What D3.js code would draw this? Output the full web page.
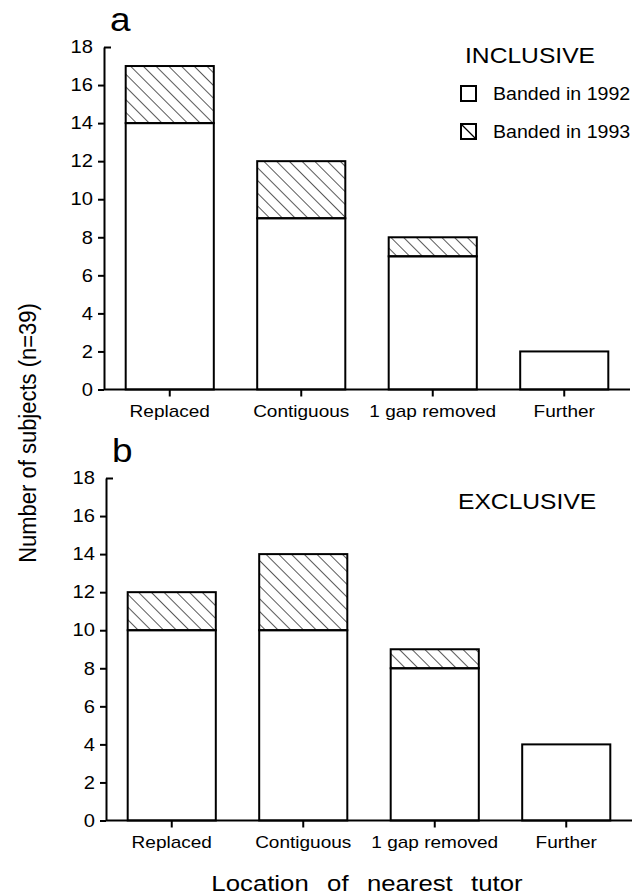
<!DOCTYPE html>
<meta charset="utf-8">
<style>
body { margin: 0; background: #fff; }
svg text { font-family: "Liberation Sans", Arial, Helvetica, sans-serif; fill: #000; }
.axis path, .axis line { stroke: #000; stroke-width: 2px; }
.bar { stroke: #000; stroke-width: 2px; }
</style>
<body>
<script src="https://d3js.org/d3.v7.min.js"></script>
<script>

var width = 638,
    height = 895;

// the scanned figure is a little wider than tall, so text is stretched
var kx = 1.12;

var categories = ["Replaced", "Contiguous", "1 gap removed", "Further"];
var inclusive1992 = [14, 9, 7, 2];
var inclusive1993 = [3, 3, 1, 0];
var exclusive1992 = [10, 10, 8, 4];
var exclusive1993 = [2, 4, 1, 0];
var yTicks = [0, 2, 4, 6, 8, 10, 12, 14, 16, 18];
var legendLabels = ["Banded in 1992", "Banded in 1993"];

var svg = d3.select("body").append("svg")
    .attr("width", width)
    .attr("height", height);

svg.append("defs").append("pattern")
    .attr("id", "hatch")
    .attr("patternUnits", "userSpaceOnUse")
    .attr("width", 9)
    .attr("height", 9)
    .attr("patternTransform", "rotate(-45)")
  .append("line")
    .attr("x1", 0).attr("y1", -1)
    .attr("x2", 0).attr("y2", 10)
    .attr("stroke", "#000")
    .attr("stroke-width", 1.3);

var x = d3.scaleBand()
    .domain(categories)
    .range([104, 630])
    .paddingInner(0.33)
    .paddingOuter(0.165);

var y = d3.scaleLinear()
    .domain([0, 18])
    .range([389.5, 47]);

function label(g, px, py, str, size, anchor) {
  return g.append("text")
      .attr("transform", "translate(" + px + "," + py + ") scale(" + kx + ",1)")
      .attr("text-anchor", anchor || "start")
      .style("font-size", size + "px")
      .text(str);
}

function panel(dx, dy, letter, title, titleX, titleY, s1992, s1993) {
  var g = svg.append("g").attr("transform", "translate(" + dx + "," + dy + ")");

  var rows = categories.map(function(c, i) {
    return {cat: c, b1992: s1992[i], b1993: s1993[i]};
  });
  var stack = d3.stack().keys(["b1992", "b1993"])(rows);

  g.selectAll("g.layer")
    .data(stack)
    .enter().append("g")
      .attr("class", "layer")
      .attr("fill", function(d) { return d.key == "b1992" ? "#fff" : "url(#hatch)"; })
    .selectAll("rect")
    .data(function(d) { return d.filter(function(s) { return s[1] > s[0]; }); })
    .enter().append("rect")
      .attr("class", "bar")
      .attr("x", function(d) { return x(d.data.cat); })
      .attr("y", function(d) { return y(d[1]); })
      .attr("width", x.bandwidth())
      .attr("height", function(d) { return y(d[0]) - y(d[1]); });

  var yAxis = g.append("g")
      .attr("class", "axis")
      .attr("transform", "translate(104,0)")
      .call(d3.axisLeft(y).tickValues(yTicks).tickSize(6).tickSizeOuter(0).tickPadding(5));
  yAxis.selectAll("text")
      .attr("x", -11 / kx)
      .attr("transform", "scale(" + kx + ",1)")
      .style("font-size", "18px");
  // top tick points inward
  yAxis.selectAll(".tick").filter(function(d) { return d == 18; })
    .select("line").attr("x2", 7);

  var xAxis = g.append("g")
      .attr("class", "axis")
      .attr("transform", "translate(0," + y(0) + ")")
      .call(d3.axisBottom(x).tickSize(7).tickSizeOuter(0).tickPadding(8));
  xAxis.selectAll("text")
      .attr("transform", "scale(" + kx + ",1)")
      .style("font-size", "17px");
  xAxis.select(".domain").attr("d", "M104,0H630");

  label(g, 110, 31, letter, 33);
  label(g, titleX, titleY, title, 22);
  return g;
}

var ga = panel(0, 0, "a", "INCLUSIVE", 465, 63, inclusive1992, inclusive1993);
panel(2, 431, "b", "EXCLUSIVE", 456, 78, exclusive1992, exclusive1993);

// legend
var legend = ga.selectAll("g.legend")
    .data(legendLabels)
    .enter().append("g")
    .attr("class", "legend")
    .attr("transform", function(d, i) { return "translate(461," + (86 + i * 38) + ")"; });

legend.append("rect")
    .attr("width", 15)
    .attr("height", 15)
    .attr("fill", "#fff")
    .attr("stroke", "#000")
    .attr("stroke-width", 2);

legend.filter(function(d, i) { return i == 1; })
  .append("line")
    .attr("x1", 0).attr("y1", 0)
    .attr("x2", 15).attr("y2", 15)
    .attr("stroke", "#000")
    .attr("stroke-width", 1.3);

legend.each(function(d) {
  label(d3.select(this), 32, 13.5, d, 17.5);
});

// axis titles
svg.append("text")
    .attr("transform", "translate(36,433) scale(" + kx + ",1) rotate(-90)")
    .attr("text-anchor", "middle")
    .style("font-size", "22px")
    .text("Number of subjects (n=39)");

label(svg, 367, 891, "Location of nearest tutor", 23, "middle")
    .style("word-spacing", "10px");

</script>
